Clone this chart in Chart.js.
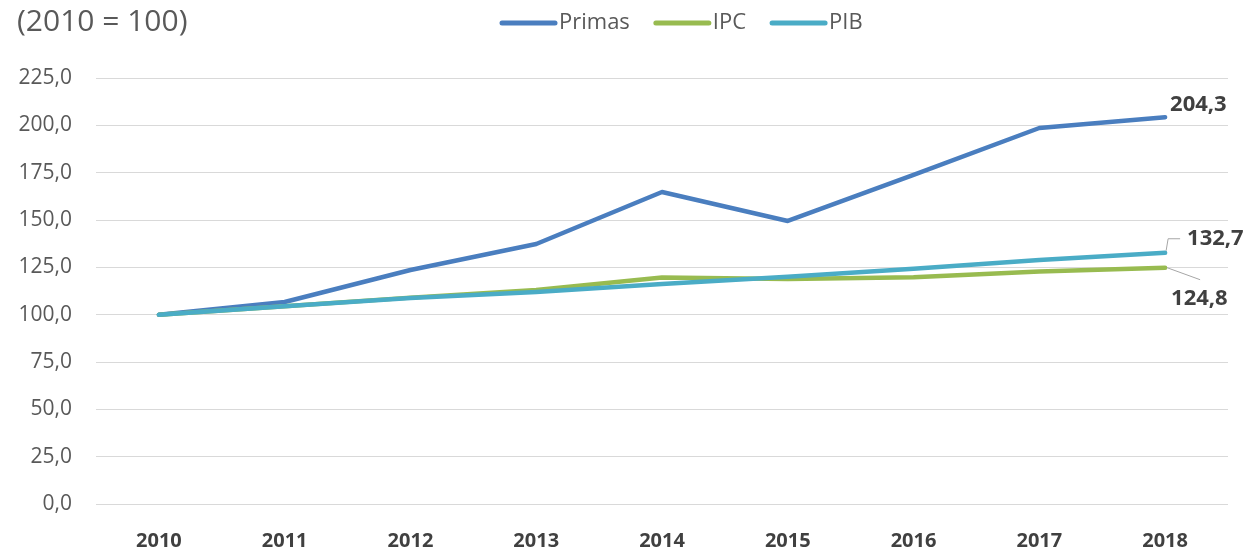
<!DOCTYPE html>
<html>
<head>
<meta charset="utf-8">
<script src="https://cdn.jsdelivr.net/npm/chart.js@4"></script>
<style>
  html, body { margin: 0; padding: 0; background: #fff; }
  #wrap { width: 1251px; height: 550px; position: relative; }
</style>
</head>
<body>
<div id="wrap"><canvas id="indexChart" width="1251" height="550"></canvas></div>
<script>
// years on the x axis
const years = ["2010", "2011", "2012", "2013", "2014", "2015", "2016", "2017", "2018"];
// index values, 2010 = 100
const primas = [100.0, 106.7, 123.6, 137.3, 164.8, 149.5, 173.8, 198.6, 204.3];
const ipc = [100.0, 104.5, 109.0, 113.0, 119.6, 118.8, 119.8, 122.8, 124.8];
const pib = [100.0, 104.4, 108.8, 112.0, 116.2, 120.0, 124.2, 128.9, 132.7];
const seriesNames = ["Primas", "IPC", "PIB"];
const titleText = "(2010 = 100)";

const FONT = "'Open Sans', 'DejaVu Sans', sans-serif";

// draws the title and the legend row at the top
const headerPlugin = {
    id: "header",
    afterDraw(chart) {
        const ctx = chart.ctx;
        ctx.save();
        ctx.fillStyle = "#595959";
        ctx.font = "30px " + FONT;
        ctx.textBaseline = "middle";
        ctx.textAlign = "left";
        ctx.fillText(titleText, 17, 22);

        ctx.font = "22px " + FONT;
        let x = 502;
        chart.data.datasets.forEach(ds => {
            ctx.strokeStyle = ds.borderColor;
            ctx.lineWidth = 5;
            ctx.lineCap = "round";
            ctx.beginPath();
            ctx.moveTo(x, 23);
            ctx.lineTo(x + 53, 23);
            ctx.stroke();
            ctx.fillStyle = "#595959";
            ctx.fillText(ds.label, x + 57, 23);
            x += 57 + ctx.measureText(ds.label).width + 26;
        });
        ctx.restore();
    }
};

// value labels on the last point of each series
const endLabelPlugin = {
    id: "endLabels",
    afterDatasetsDraw(chart) {
        const ctx = chart.ctx;
        const last = years.length - 1;
        const xs = chart.scales.x, ys = chart.scales.y;
        const px = xs.getPixelForValue(last);
        const fmt = v => v.toFixed(1).replace(".", ",");
        ctx.save();
        ctx.font = "bold 22px " + FONT;
        ctx.fillStyle = "#404040";
        ctx.textBaseline = "middle";
        ctx.textAlign = "left";

        // Primas
        const yP = ys.getPixelForValue(primas[last]);
        ctx.fillText(fmt(primas[last]), px + 5, yP - 12);

        // PIB with leader line
        const yB = ys.getPixelForValue(pib[last]);
        ctx.strokeStyle = "#a6a6a6";
        ctx.lineWidth = 1;
        ctx.beginPath();
        ctx.moveTo(px + 1, yB - 2);
        ctx.lineTo(px + 3, yB - 14);
        ctx.lineTo(px + 15, yB - 14);
        ctx.stroke();
        ctx.fillText(fmt(pib[last]), px + 22, yB - 14);

        // IPC with leader line
        const yI = ys.getPixelForValue(ipc[last]);
        ctx.beginPath();
        ctx.moveTo(px + 2, yI);
        ctx.lineTo(px + 35, yI + 12);
        ctx.stroke();
        ctx.fillText(fmt(ipc[last]), px + 6, yI + 31);
        ctx.restore();
    }
};

const ctx = document.getElementById("indexChart").getContext("2d");
const indexChart = new Chart(ctx, {
    type: "line",
    data: {
        labels: years,
        datasets: [
            {
                label: seriesNames[0],
                data: primas,
                borderColor: "#4a7ebf",
                backgroundColor: "#4a7ebf",
                borderWidth: 4.5,
                order: 3
            },
            {
                label: seriesNames[1],
                data: ipc,
                borderColor: "#98bb50",
                backgroundColor: "#98bb50",
                borderWidth: 4.5,
                order: 2
            },
            {
                label: seriesNames[2],
                data: pib,
                borderColor: "#4aacc6",
                backgroundColor: "#4aacc6",
                borderWidth: 4.5,
                order: 1
            }
        ]
    },
    options: {
        responsive: false,
        animation: false,
        devicePixelRatio: 1,
        elements: {
            point: { radius: 0, hoverRadius: 0 },
            line: { tension: 0, borderCapStyle: "round", borderJoinStyle: "round" }
        },
        layout: {
            padding: { top: 78, left: 0, right: 23, bottom: 0 }
        },
        plugins: {
            legend: { display: false },
            title: { display: false },
            tooltip: { enabled: false }
        },
        scales: {
            x: {
                offset: true,
                grid: { display: false, drawTicks: false },
                border: { display: false },
                ticks: {
                    color: "#404040",
                    font: { family: FONT, size: 20, weight: "bold" },
                    padding: 25,
                    maxRotation: 0
                },
                afterFit: scale => { scale.height = 46; }
            },
            y: {
                min: 0,
                max: 225,
                grid: { color: "#d9d9d9", lineWidth: 1, drawTicks: false },
                border: { display: false },
                ticks: {
                    stepSize: 25,
                    color: "#595959",
                    font: { family: FONT, size: 21 },
                    padding: 24,
                    callback: v => v.toFixed(1).replace(".", ",")
                },
                afterFit: scale => { scale.width = 96; }
            }
        }
    },
    plugins: [headerPlugin, endLabelPlugin]
});
</script>
</body>
</html>
